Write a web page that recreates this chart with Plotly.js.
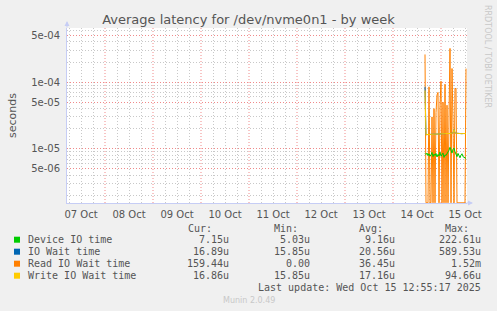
<!DOCTYPE html>
<html>
<head>
<meta charset="utf-8">
<script src="https://cdn.plot.ly/plotly-3.0.1.min.js"></script>
<style>html,body{margin:0;padding:0;background:#F0F0F0;}#chart{width:497px;height:311px;}</style>
</head>
<body>
<div id="chart"></div>
<script>
// ---- data (30-minute samples; values in microseconds) ----
const times = [
  '2025-10-14 16:00','2025-10-14 16:30','2025-10-14 17:00','2025-10-14 17:30','2025-10-14 18:00','2025-10-14 18:30',
  '2025-10-14 19:00','2025-10-14 19:30','2025-10-14 20:00','2025-10-14 20:30','2025-10-14 21:00','2025-10-14 21:30',
  '2025-10-14 22:00','2025-10-14 22:30','2025-10-14 23:00','2025-10-14 23:30','2025-10-15 00:00','2025-10-15 00:30',
  '2025-10-15 01:00','2025-10-15 01:30','2025-10-15 02:00','2025-10-15 02:30','2025-10-15 03:00','2025-10-15 03:30',
  '2025-10-15 04:00','2025-10-15 04:30','2025-10-15 05:00','2025-10-15 05:30','2025-10-15 06:00','2025-10-15 06:30',
  '2025-10-15 07:00','2025-10-15 07:30','2025-10-15 08:00','2025-10-15 08:30','2025-10-15 09:00','2025-10-15 09:30',
  '2025-10-15 10:00','2025-10-15 10:30','2025-10-15 11:00','2025-10-15 11:30','2025-10-15 12:00','2025-10-15 12:30'
];
const deviceIO = [8.5, 8.2,8.6,7.9,8.4,7.7,8.1,8.8,7.6,8.3,7.9,8.5,7.5,8.2,7.8,8.9,7.7,8.0,8.6,7.4,8.1,7.9,8.4,8.8,9.5,10.5,9.2,8.6,9.8,10.2,9.0,8.3,7.6,8.5,7.8,7.3,8.0,8.4,7.6,7.5,7.2,7.15];
const ioWait   = [85, 16.2,16.3,16.3,16.4,16.4,16.5,16.4,16.5,16.6,16.5,16.6,16.6,16.7,16.6,16.7,16.7,16.8,16.7,16.8,16.8,16.9,16.8,16.9,17.0,16.9,17.0,17.1,17.2,19.5,17.3,17.1,17.0,17.0,16.9,16.9,16.9,16.8,16.9,16.9,16.8,16.89];
const readWait = [260, 0,0,0,85,0,0,30,0,40,0,35,64,70,0,45,103,0,50,0,93,0,45,0,30,320,0,160,25,0,79,81,0,0,0,0,0,0,0,0,0,159.44];
const writeWait= [75, 16.2,16.3,16.3,16.4,16.4,16.5,16.4,16.5,16.6,16.5,16.6,16.6,16.7,16.6,16.7,16.7,16.8,16.7,16.8,16.8,16.9,16.8,16.9,17.0,16.9,17.0,17.1,17.2,19.5,17.3,17.1,17.0,17.0,16.9,16.9,16.9,16.8,16.9,16.9,16.8,16.86];

const seriesNames = ['Device IO time','IO Wait time','Read IO Wait time','Write IO Wait time'];
const seriesColors = ['#00CC00','#0066B3','#FF8000','#FFCC00'];
const curVals = ['7.15u','16.89u','159.44u','16.86u'];
const minVals = ['5.03u','15.85u','0.00','15.85u'];
const avgVals = ['9.16u','20.56u','36.45u','17.16u'];
const maxVals = ['222.61u','589.53u','1.52m','94.66u'];

const yTickVals = [5e-6, 1e-5, 5e-5, 1e-4, 5e-4];
const yTickText = ['5e-06','1e-05','5e-05','1e-04','5e-04'];
const yMinorVals = [2e-6,3e-6,4e-6,6e-6,7e-6,8e-6,9e-6,2e-5,3e-5,4e-5,6e-5,7e-5,8e-5,9e-5,2e-4,3e-4,4e-4,6e-4];
const gridDays = ['2025-10-07','2025-10-08','2025-10-09','2025-10-10','2025-10-11','2025-10-12','2025-10-13','2025-10-14','2025-10-15'];
const minorHours = ['06:00','12:00','18:00'];
const xMinorVals = [];
gridDays.forEach(d => minorHours.forEach(h => xMinorVals.push(d + ' ' + h)));

// ---- layout helpers ----
const L = 67, R = 467, T = 28, B = 203;
const px = x => (x - L) / (R - L);
const py = y => (B - y) / (B - T);
const US = 1e-6;
const FLOOR = Math.pow(10, -5.812); // zero drawn at bottom edge (log axis)
const toSec = arr => arr.map(v => v > 0 ? v * US : FLOOR);
const MAJOR = '#f08a8a', MINOR = '#c8c8c8', DASH = '1px,2px';

const traces = [
  {x: times, y: toSec(readWait), name: seriesNames[2], type: 'scatter', mode: 'lines', line: {color: seriesColors[2], width: 1}},
  {x: times, y: toSec(deviceIO), name: seriesNames[0], type: 'scatter', mode: 'lines', line: {color: seriesColors[0], width: 1}},
  {x: times, y: toSec(ioWait), name: seriesNames[1], type: 'scatter', mode: 'lines', line: {color: seriesColors[1], width: 1}},
  {x: times, y: toSec(writeWait), name: seriesNames[3], type: 'scatter', mode: 'lines', line: {color: seriesColors[3], width: 1}}
];

const mono = {family: 'DejaVu Sans Mono', size: 10, color: '#555'};
const annotations = [];
const shapes = [];
// major (midnight) vertical grid lines
gridDays.slice(1).forEach(d => shapes.push({type: 'line', xref: 'x', yref: 'paper', x0: d + ' 00:00', x1: d + ' 00:00', y0: 0, y1: 1, layer: 'below', line: {color: MAJOR, width: 1, dash: DASH}}));
const rowY = [239.7, 251.7, 263.7, 275.7];
const hdr = [['Cur:', 213.5], ['Min:', 299.5], ['Avg:', 384.5], ['Max:', 470.5]];
hdr.forEach(h => annotations.push({xref: 'paper', yref: 'paper', x: px(h[1]), y: py(228), text: h[0], showarrow: false, xanchor: 'right', yanchor: 'middle', font: mono}));
seriesNames.forEach((n, i) => {
  shapes.push({type: 'rect', xref: 'paper', yref: 'paper', x0: px(14), x1: px(20), y0: py(rowY[i] + 3), y1: py(rowY[i] - 3), fillcolor: seriesColors[i], line: {width: 0}});
  annotations.push({xref: 'paper', yref: 'paper', x: px(26), y: py(rowY[i]), text: n, showarrow: false, xanchor: 'left', yanchor: 'middle', font: mono});
  [[curVals, 230.5], [minVals, 312], [avgVals, 397], [maxVals, 483]].forEach(c => {
    annotations.push({xref: 'paper', yref: 'paper', x: px(c[1]), y: py(rowY[i]), text: c[0][i], showarrow: false, xanchor: 'right', yanchor: 'middle', font: mono});
  });
});
annotations.push({xref: 'paper', yref: 'paper', x: px(483), y: py(287.7), text: 'Last update: Wed Oct 15 12:55:17 2025', showarrow: false, xanchor: 'right', yanchor: 'middle', font: mono});
annotations.push({xref: 'paper', yref: 'paper', x: px(248.5), y: py(300), text: 'Munin 2.0.49', showarrow: false, xanchor: 'center', yanchor: 'middle', font: {family: 'DejaVu Sans', size: 8, color: '#c8c8c8'}});
annotations.push({xref: 'paper', yref: 'paper', x: px(488), y: py(56), text: 'RRDTOOL / TOBI OETIKER', textangle: 90, showarrow: false, xanchor: 'center', yanchor: 'middle', font: {family: 'DejaVu Sans', size: 8, color: '#c8c8c8'}});
// axis arrows
annotations.push({xref: 'paper', yref: 'paper', x: px(67), y: py(21), ax: 0, ay: 8, showarrow: true, arrowhead: 2, arrowsize: 1, arrowwidth: 1, arrowcolor: '#c6cdf5', text: ''});
annotations.push({xref: 'paper', yref: 'paper', x: px(473), y: py(203), ax: -8, ay: 0, showarrow: true, arrowhead: 2, arrowsize: 1, arrowwidth: 1, arrowcolor: '#c6cdf5', text: ''});

const layout = {
  width: 497, height: 311,
  margin: {l: L, r: 497 - R, t: T, b: 311 - B, pad: 0},
  paper_bgcolor: '#F0F0F0', plot_bgcolor: '#FFFFFF',
  showlegend: false,
  font: {family: 'DejaVu Sans', size: 10, color: '#555'},
  title: {text: 'Average latency for /dev/nvme0n1 - by week', font: {family: 'DejaVu Sans', size: 13, color: '#555'}, xref: 'container', x: 0.5, xanchor: 'center', yref: 'container', y: 1 - 19 / 311, yanchor: 'middle'},
  xaxis: {
    type: 'date', range: ['2025-10-07 05:00', '2025-10-15 13:00'],
    tickmode: 'linear', tick0: '2025-10-07 00:00', dtick: 86400000, tickformat: '%d %b', ticklabelmode: 'period',
    showgrid: false,
    minor: {tickmode: 'array', tickvals: xMinorVals, showgrid: true, gridcolor: MINOR, griddash: DASH, gridwidth: 1},
    showline: true, linecolor: '#c6cdf5', linewidth: 1, ticks: '', zeroline: false, ticklabelstandoff: 2,
    tickfont: {family: 'DejaVu Sans', size: 10, color: '#555'}, fixedrange: true
  },
  yaxis: {
    type: 'log', range: [-5.815, -3.188],
    tickmode: 'array', tickvals: yTickVals, ticktext: yTickText,
    showgrid: true, gridcolor: MAJOR, griddash: DASH, gridwidth: 1,
    minor: {tickmode: 'array', tickvals: yMinorVals, showgrid: true, gridcolor: MINOR, griddash: DASH, gridwidth: 1},
    showline: true, linecolor: '#c6cdf5', linewidth: 1, ticks: '', zeroline: false,
    ticklabelstandoff: 4,
    tickfont: {family: 'DejaVu Sans', size: 10, color: '#555'},
    title: {text: 'seconds', font: {family: 'DejaVu Sans', size: 11, color: '#555'}, standoff: 12},
    automargin: false, fixedrange: true
  },
  annotations: annotations,
  shapes: shapes
};

Plotly.newPlot('chart', traces, layout, {staticPlot: true, displayModeBar: false});
</script>
</body>
</html>
